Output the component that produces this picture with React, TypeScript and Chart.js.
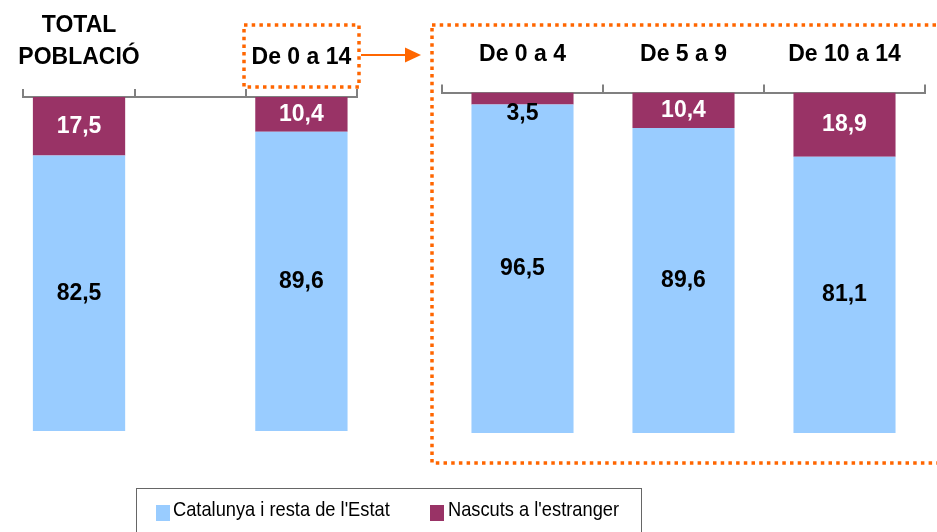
import React, { useEffect, useRef } from "react";
import { Chart, registerables } from "chart.js";

Chart.register(...registerables);

const categoriesLeft: (string | string[])[] = [["TOTAL", "POBLACIÓ"], "", "De 0 a 14"];
const catalunyaLeft: (number | null)[] = [82.5, null, 89.6];
const estrangerLeft: (number | null)[] = [17.5, null, 10.4];

const categoriesRight: string[] = ["De 0 a 4", "De 5 a 9", "De 10 a 14"];
const catalunyaRight: number[] = [96.5, 89.6, 81.1];
const estrangerRight: number[] = [3.5, 10.4, 18.9];

const seriesNames = ["Catalunya i resta de l'Estat", "Nascuts a l'estranger"];

const BLUE = "#99CCFF";
const MAROON = "#993366";
const ORANGE = "#FF6600";
const AXIS = "#808080";
const FONT = "'Liberation Sans', Arial, sans-serif";

const fmt = (v: number) => v.toFixed(1).replace(".", ",");

const valueLabels = {
  id: "valueLabels",
  afterDatasetsDraw(chart: any) {
    const ctx = chart.ctx;
    ctx.save();
    ctx.font = `bold 23px ${FONT}`;
    ctx.textAlign = "center";
    ctx.textBaseline = "middle";
    chart.data.datasets.forEach((ds: any, i: number) => {
      const meta = chart.getDatasetMeta(i);
      meta.data.forEach((bar: any, j: number) => {
        const v = ds.data[j];
        if (v == null) return;
        const { x, y, base } = bar.getProps(["x", "y", "base"], true);
        const h = base - y;
        let cy = (y + base) / 2;
        let color = i === 0 ? "#000000" : "#FFFFFF";
        if (h < 20) {
          color = "#000000";
          cy = y + 21;
        }
        ctx.fillStyle = color;
        ctx.fillText(fmt(v), x, cy);
      });
    });
    ctx.restore();
  },
};

const decorations = {
  id: "decorations",
  afterDraw(chart: any) {
    const ctx = chart.ctx;
    ctx.save();
    ctx.strokeStyle = ORANGE;
    ctx.fillStyle = ORANGE;
    ctx.lineWidth = 3.5;
    ctx.setLineDash([3.5, 4.2]);
    ctx.lineCap = "butt";
    ctx.strokeRect(244, 25, 115, 62);
    ctx.strokeRect(432, 25, 520, 438);
    ctx.setLineDash([]);
    ctx.lineWidth = 2;
    ctx.beginPath();
    ctx.moveTo(361, 55);
    ctx.lineTo(408, 55);
    ctx.stroke();
    ctx.beginPath();
    ctx.moveTo(421, 55);
    ctx.lineTo(405, 47.5);
    ctx.lineTo(405, 62.5);
    ctx.closePath();
    ctx.fill();
    ctx.restore();
  },
};

function makeOptions(padding: any, barPct: number, tickPad: number) {
  return {
    responsive: false,
    animation: false as const,
    layout: { padding },
    plugins: {
      legend: { display: false },
      tooltip: { enabled: false },
    },
    datasets: { bar: { categoryPercentage: 1, barPercentage: barPct } },
    scales: {
      x: {
        position: "top" as const,
        stacked: true,
        grid: {
          offset: true,
          drawOnChartArea: false,
          drawTicks: true,
          tickLength: 8,
          color: AXIS,
          lineWidth: 2,
        },
        border: { display: true, color: AXIS, width: 2 },
        ticks: {
          autoSkip: false,
          maxRotation: 0,
          minRotation: 0,
          color: "#000000",
          padding: tickPad,
          font: { family: FONT, size: 23, weight: "bold" as const, lineHeight: "32px" },
        },
      },
      y: {
        display: false,
        stacked: true,
        min: 0,
        max: 100,
      },
    },
  };
}

function BarChart({ labels, a, b, padding, barPct, tickPad, extra }: any) {
  const ref = useRef<HTMLCanvasElement | null>(null);
  useEffect(() => {
    if (!ref.current) return;
    const chart = new Chart(ref.current, {
      type: "bar",
      data: {
        labels,
        datasets: [
          { label: seriesNames[0], data: a, backgroundColor: BLUE, borderWidth: 0 },
          { label: seriesNames[1], data: b, backgroundColor: MAROON, borderWidth: 0 },
        ],
      },
      options: makeOptions(padding, barPct, tickPad) as any,
      plugins: extra ? [valueLabels, extra] : [valueLabels],
    });
    return () => chart.destroy();
  }, []);
  return (
    <canvas
      ref={ref}
      width={937}
      height={532}
      style={{ position: "absolute", left: 0, top: 0, width: 937, height: 532 }}
    />
  );
}

const legendText: React.CSSProperties = {
  position: "absolute",
  top: 498,
  fontSize: 21,
  lineHeight: "21px",
  color: "#000",
  whiteSpace: "nowrap",
  transform: "scaleX(0.87)",
  transformOrigin: "left top",
};

export default function App() {
  return (
    <div
      style={{
        position: "absolute",
        left: 0,
        top: 0,
        width: 937,
        height: 532,
        overflow: "hidden",
        background: "#FFFFFF",
        fontFamily: FONT,
      }}
    >
      <BarChart
        labels={categoriesLeft}
        a={catalunyaLeft}
        b={estrangerLeft}
        padding={{ left: 17, right: 580, top: -6, bottom: 101 }}
        barPct={0.83}
        tickPad={15.5}
      />
      <BarChart
        labels={categoriesRight}
        a={catalunyaRight}
        b={estrangerRight}
        padding={{ left: 442, right: 12, top: 25.5, bottom: 99 }}
        barPct={0.634}
        tickPad={13.5}
        extra={decorations}
      />
      <div
        style={{
          position: "absolute",
          left: 136,
          top: 488,
          width: 506,
          height: 60,
          border: "1px solid #666666",
          boxSizing: "border-box",
        }}
      />
      <div style={{ position: "absolute", left: 156, top: 505, width: 14, height: 16, background: BLUE }} />
      <span style={{ ...legendText, left: 173 }}>{seriesNames[0]}</span>
      <div style={{ position: "absolute", left: 430, top: 505, width: 14, height: 16, background: MAROON }} />
      <span style={{ ...legendText, left: 448 }}>{seriesNames[1]}</span>
    </div>
  );
}
